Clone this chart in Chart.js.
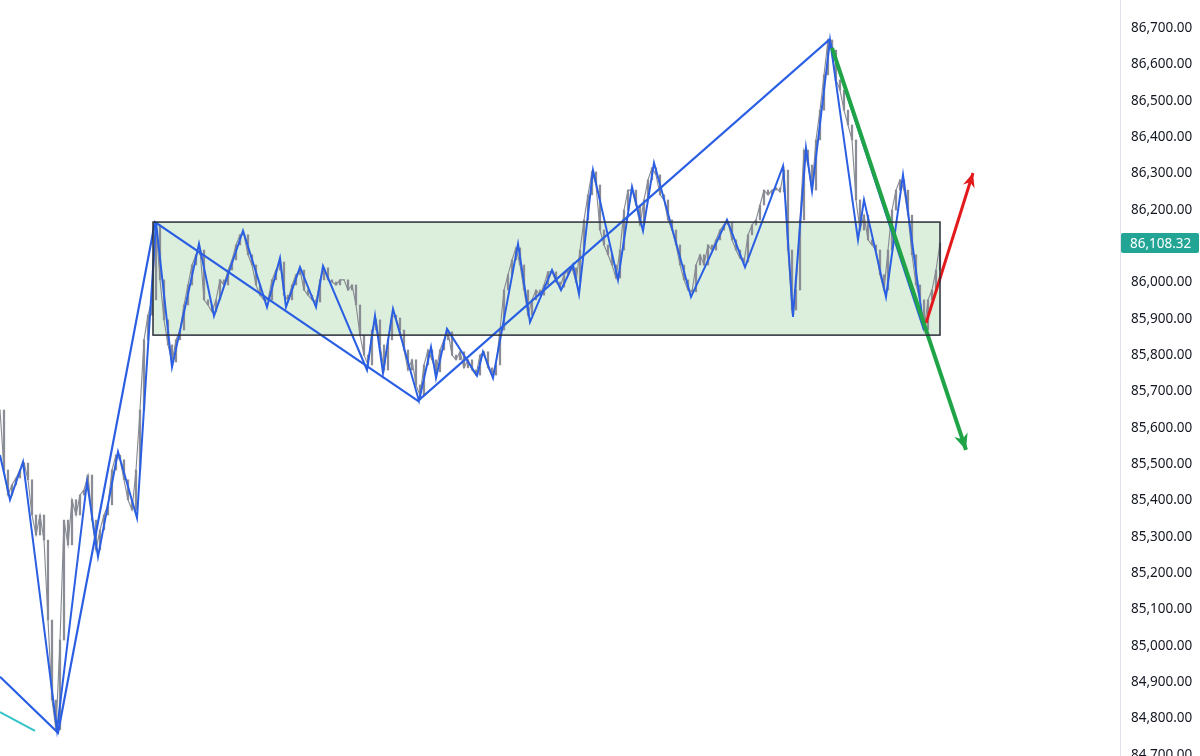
<!DOCTYPE html>
<html><head><meta charset="utf-8">
<script src="https://cdn.jsdelivr.net/npm/chart.js@4.4.1/dist/chart.umd.min.js"></script>
<style>html,body{margin:0;padding:0;background:#fff}#wrap{width:1200px;height:756px;position:relative}</style>
</head><body><div id="wrap"><canvas id="c"></canvas></div>
<script>
// ---- data (x = bar index, y = price) ----
const grayStep = 2; // bars between price samples
const grayClose = [
85649,85484,85415,85443,85462,85484,85503,85457,85360,85305,
85360,85291,85071,84851,84769,85016,85346,85278,85402,85360,
85415,85429,85470,85346,85264,85319,85360,85388,85484,85525,
85512,85457,85402,85374,85484,85649,85842,85910,85952,86158,
86007,85897,85828,85781,85842,85869,85938,85993,86048,86076,
86089,85952,85938,85919,85952,86007,85993,86034,86062,86103,
86131,86131,86076,86048,85993,85965,85952,85952,86007,86034,
86056,85965,85952,85993,86021,86034,85979,85965,85952,85946,
86007,86040,86007,86001,85993,86007,86007,85979,85993,85938,
85855,85800,85773,85869,85897,
85828,85759,85842,85910,85902,85869,85814,85759,85787,85718,
85690,85773,85814,85787,85754,85814,85842,85864,85800,85787,
85809,85765,85787,85759,85745,85800,85809,85765,85745,85773,
85869,85979,
86021,86062,86095,86048,85979,85910,85952,85979,85965,85993,
86029,86029,86001,85987,86021,86034,86040,86001,86089,86172,
86241,86304,86268,86144,86103,86076,86048,86012,86089,86199,
86254,86254,86213,86158,86227,86282,86315,86296,86241,86227,
86172,86144,86103,86048,86007,85979,85974,86048,86076,86048,
86103,86089,86117,86144,86158,86166,
86117,86089,86067,86056,86131,86158,86172,86213,86254,86241,
86254,86260,86249,86309,86089,85924,85979,86172,86364,86323,
86254,86392,86474,86571,86667,86639,86557,86529,86474,86433,
86392,86227,86144,86185,86117,86103,86089,86021,85979,86089,
86199,86254,86282,86254,86185,86076,85993,85952,85869,85952,
85979,86034,86108.32
];
const zigzagBars = [0,5,11.5,28.5,43.5,49,59,68.5,78,86,99.5,107,121.5,133.5,140,143,150,158,161.5,183.5,187.5,191.5,196.5,209.5,215.5,218,223.5,238.5,241.5,246.5,259,265,276,280.5,286.5,289.5,296.5,309,316,321.5,327,345.5,363.5,372.5,391.5,396.5,403,406,415,429,432,443,451.5,462];
const zigzagPrices = [85525,85402,85506,84769,85451,85245,85534,85352,86166,85767,86106,85908,86142,85932,86067,85932,86042,85932,86045,85759,85908,85751,85927,85674,85822,85737,85872,85743,85809,85737,86106,85891,86034,85979,86048,85968,86309,86007,86263,86142,86329,85960,86172,86042,86320,85905,86370,86252,86667,86117,86227,85960,86296,85869];
const majorBars = [0,29,77.5,209,414.5,462];
const majorPrices = [84915,84761,86166,85674,86667,85869];
const cyanBars = [0,17.5];
const cyanPrices = [84818,84766];
const downArrowBars = [416,483];
const downArrowPrices = [86645,85539];
const upArrowBars = [463,486.5];
const upArrowPrices = [85888,86301];
const rangeBars = [76.5,470];
const rangePrices = [85855,86166];
const yTicks = [84700,84800,84900,85000,85100,85200,85300,85400,85500,85600,85700,85800,85900,86000,86100,86200,86300,86400,86500,86600,86700];
const lastPrice = 86108.32;
const xMax = 560, yMin = 84697, yMax = 86777;

const pts = (xs, ys) => xs.map((x, i) => ({x, y: ys[i]}));
const fmt = v => v.toLocaleString('en-US', {minimumFractionDigits: 2, maximumFractionDigits: 2});

function arrowHead(ctx, x0, y0, x1, y1, len, half, color) {
  const a = Math.atan2(y1 - y0, x1 - x0);
  ctx.save();
  ctx.fillStyle = color;
  ctx.beginPath();
  ctx.moveTo(x1, y1);
  ctx.lineTo(x1 - len * Math.cos(a) + half * Math.sin(a), y1 - len * Math.sin(a) - half * Math.cos(a));
  ctx.lineTo(x1 - len * 0.7 * Math.cos(a), y1 - len * 0.7 * Math.sin(a));
  ctx.lineTo(x1 - len * Math.cos(a) - half * Math.sin(a), y1 - len * Math.sin(a) + half * Math.cos(a));
  ctx.closePath();
  ctx.fill();
  ctx.restore();
}

const drawings = {
  id: 'drawings',
  beforeDatasetsDraw(chart) {
    const {ctx, scales: {x, y}} = chart;
    const x0 = x.getPixelForValue(rangeBars[0]), x1 = x.getPixelForValue(rangeBars[1]);
    const yT = y.getPixelForValue(rangePrices[1]), yB = y.getPixelForValue(rangePrices[0]);
    ctx.save();
    ctx.fillStyle = 'rgba(76,175,80,0.2)';
    ctx.fillRect(x0, yT, x1 - x0, yB - yT);
    ctx.restore();
  },
  afterDatasetsDraw(chart) {
    const {ctx, scales: {x, y}} = chart;
    const x0 = x.getPixelForValue(rangeBars[0]), x1 = x.getPixelForValue(rangeBars[1]);
    const yT = y.getPixelForValue(rangePrices[1]), yB = y.getPixelForValue(rangePrices[0]);
    ctx.save();
    ctx.strokeStyle = '#2a2e39';
    ctx.lineWidth = 1.5;
    ctx.strokeRect(x0, yT, x1 - x0, yB - yT);
    ctx.restore();
    arrowHead(ctx, x.getPixelForValue(downArrowBars[0]), y.getPixelForValue(downArrowPrices[0]),
      x.getPixelForValue(downArrowBars[1]), y.getPixelForValue(downArrowPrices[1]), 16, 7, '#1fa447');
    arrowHead(ctx, x.getPixelForValue(upArrowBars[0]), y.getPixelForValue(upArrowPrices[0]),
      x.getPixelForValue(upArrowBars[1]), y.getPixelForValue(upArrowPrices[1]), 14, 6, '#e3191c');
  },
  afterDraw(chart) {
    const {ctx, scales: {y}} = chart;
    const py = Math.round(y.getPixelForValue(lastPrice));
    const left = chart.chartArea.right + 1, w = 78, h = 20;
    ctx.save();
    ctx.fillStyle = '#22a595';
    ctx.beginPath();
    ctx.roundRect(left, py - h / 2, w, h, 2);
    ctx.fill();
    ctx.fillStyle = '#ffffff';
    ctx.font = '13.5px "Noto Sans"';
    ctx.textBaseline = 'middle';
    ctx.textAlign = 'left';
    ctx.fillText(fmt(lastPrice), left + 9, py + 1);
    ctx.restore();
  }
};

const lineDs = (label, data, color, width, order) => ({
  type: 'line', label, data, borderColor: color, borderWidth: width, pointRadius: 0, tension: 0, fill: false, order
});

// candle bodies spanning previous close to current close
const candleData = grayClose.map((v, i) => ({x: i * grayStep, y: [i ? grayClose[i - 1] : v, v]}));

new Chart(document.getElementById('c'), {
  type: 'line',
  data: {
    datasets: [
      lineDs('down', pts(downArrowBars, downArrowPrices), '#1fa447', 4, 0),
      lineDs('up', pts(upArrowBars, upArrowPrices), '#e3191c', 3, 0),
      lineDs('major', pts(majorBars, majorPrices), '#2b5fe3', 2.2, 1),
      lineDs('zigzag', pts(zigzagBars, zigzagPrices), '#2b5fe3', 2, 2),
      lineDs('cyan', pts(cyanBars, cyanPrices), '#33c3c9', 2, 3),
      lineDs('price', grayClose.map((v, i) => ({x: i * grayStep, y: v})), '#868992', 1.1, 4),
      {type: 'bar', label: 'candles', data: candleData, backgroundColor: '#8a8d96', borderWidth: 0,
       barThickness: 1.6, order: 5}
    ]
  },
  options: {
    responsive: true,
    maintainAspectRatio: false,
    animation: false,
    layout: {padding: 0},
    plugins: {legend: {display: false}, tooltip: {enabled: false}},
    scales: {
      x: {type: 'linear', display: false, min: 0, max: xMax, offset: false, grid: {offset: false}},
      y: {
        position: 'right', min: yMin, max: yMax,
        grid: {display: false, drawTicks: false},
        border: {display: true, color: '#e0e3eb', width: 1},
        afterBuildTicks: s => { s.ticks = yTicks.map(v => ({value: v})); },
        afterFit: s => { s.width = 80; s.paddingTop = 0; s.paddingBottom = 0; },
        ticks: {
          autoSkip: false, padding: 11, color: '#131722',
          font: {family: '"Noto Sans"', size: 13.5},
          callback: v => fmt(v)
        }
      }
    }
  },
  plugins: [drawings]
});
</script>
</body></html>
